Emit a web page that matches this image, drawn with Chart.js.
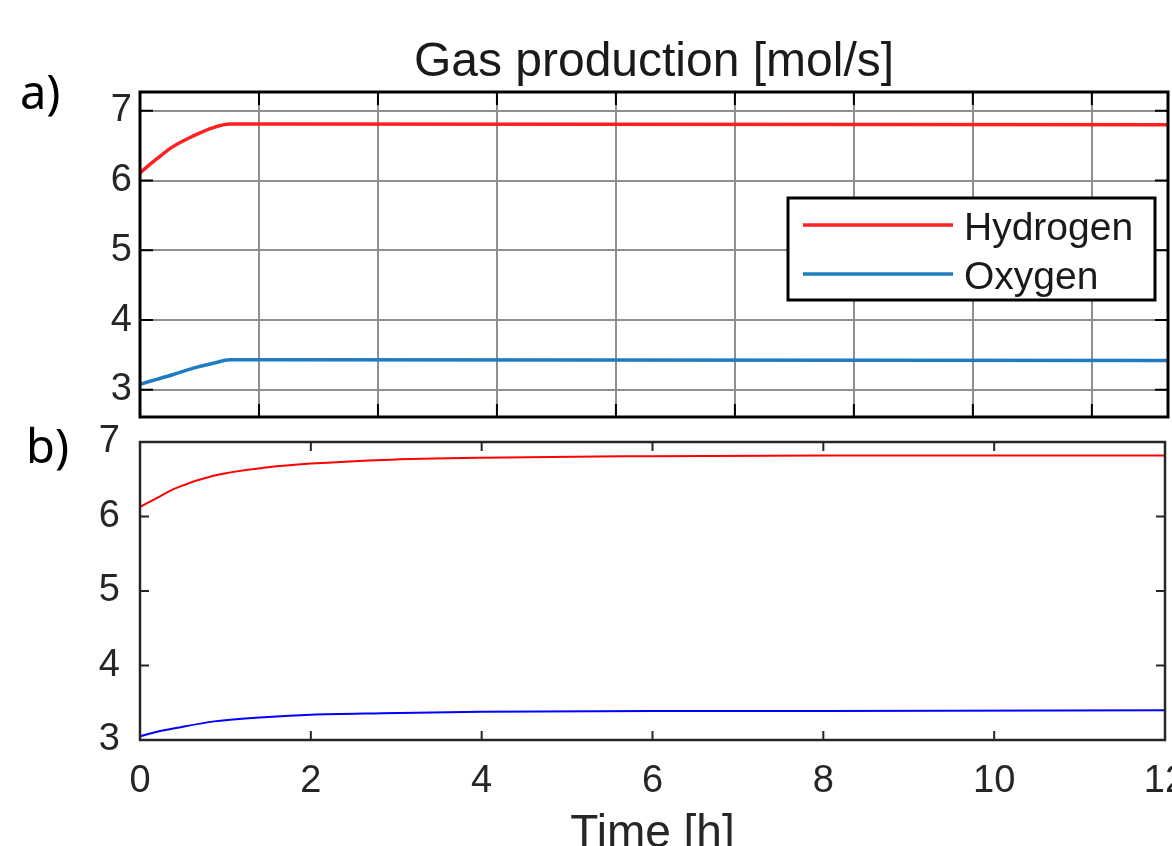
<!DOCTYPE html>
<html lang="en">
<head>
<meta charset="UTF-8">
<title>Gas production [mol/s]</title>
<style>
  body { margin: 0; background: #fff; width: 1172px; height: 846px; overflow: hidden; position: relative; }
  canvas { position: absolute; left: 0; }
  #chartA { top: 0; }
  #chartB { top: 425px; }
  .tag { position: absolute; font-family: 'Noto Sans', sans-serif; font-size: 47px; line-height: 1; color: #000; }
</style>
</head>
<body>
<canvas id="chartA" width="1172" height="425"></canvas>
<canvas id="chartB" width="1172" height="460"></canvas>
<div class="tag" style="left:20px;top:68px">a)</div>
<div class="tag" style="left:26px;top:422px">b)</div>

<script src="https://cdn.jsdelivr.net/npm/chart.js"></script>
<script>
// ---- data ----
const chartTitle = 'Gas production [mol/s]';
const xTitle = 'Time [h]';
const seriesNames = ['Hydrogen', 'Oxygen'];

// a) time in seconds (axis ticks every 5000 s, unlabelled)
const timeA = [0, 700, 1400, 2240, 3080, 3780, 43200];
const hydrogenA = [6.11, 6.31, 6.49, 6.64, 6.76, 6.81, 6.80];
const oxygenA = [3.08, 3.15, 3.22, 3.31, 3.38, 3.43, 3.42];
const ticksAX = [0, 5000, 10000, 15000, 20000, 25000, 30000, 35000, 40000];
const ticksAY = [3, 4, 5, 6, 7];

// b) time in hours
const timeB = [0, 0.2, 0.42, 0.87, 1.5, 2, 2.84, 4, 6, 8, 12];
const hydrogenB = [6.13, 6.25, 6.38, 6.55, 6.66, 6.71, 6.76, 6.79, 6.81, 6.82, 6.82];
const oxygenB = [3.05, 3.11, 3.16, 3.25, 3.31, 3.34, 3.36, 3.38, 3.39, 3.39, 3.40];
const ticksBX = [0, 2, 4, 6, 8, 10, 12];
const ticksBY = [3, 4, 5, 6, 7];

const fontFamily = "'Liberation Sans', Arial, sans-serif";
Chart.defaults.font.family = fontFamily;

function pts(xs, ys) { return xs.map((x, i) => ({ x: x, y: ys[i] })); }
function setTicks(list) { return s => { s.ticks = list.map(v => ({ value: v })); }; }
function fixWidth(w) { return s => { s.width = w; s.paddingTop = 0; s.paddingBottom = 0; }; }
function fixHeight(h) { return s => { s.height = h; s.paddingLeft = 0; s.paddingRight = 0; }; }

// box round the axes plus inward tick marks on all four sides
const framePlugin = {
  id: 'frame',
  afterDatasetsDraw(chart, args, o) {
    const { ctx, chartArea: a, scales } = chart;
    ctx.save();
    ctx.strokeStyle = o.color;
    ctx.lineWidth = o.tickWidth;
    ctx.beginPath();
    scales.x.ticks.forEach(t => {
      const px = scales.x.getPixelForValue(t.value);
      ctx.moveTo(px, a.bottom); ctx.lineTo(px, a.bottom - o.tickLen);
      ctx.moveTo(px, a.top); ctx.lineTo(px, a.top + o.tickLen);
    });
    scales.y.ticks.forEach(t => {
      const py = scales.y.getPixelForValue(t.value);
      ctx.moveTo(a.left, py); ctx.lineTo(a.left + o.tickLen, py);
      ctx.moveTo(a.right, py); ctx.lineTo(a.right - o.tickLen, py);
    });
    ctx.stroke();
    ctx.lineWidth = o.width;
    ctx.strokeRect(a.left, a.top, a.right - a.left, a.bottom - a.top);
    ctx.restore();
  }
};

// legend drawn inside the plot, matlab style
const boxLegend = {
  id: 'boxLegend',
  afterDraw(chart, args, o) {
    const ctx = chart.ctx;
    ctx.save();
    ctx.fillStyle = '#fff';
    ctx.fillRect(o.left, o.top, o.width, o.height);
    ctx.lineWidth = o.borderWidth;
    ctx.strokeStyle = o.borderColor;
    ctx.strokeRect(o.left, o.top, o.width, o.height);
    ctx.font = o.fontSize + 'px ' + fontFamily;
    ctx.textBaseline = 'middle';
    chart.data.datasets.forEach((ds, i) => {
      const y = o.top + o.firstRow + i * o.rowGap;
      ctx.strokeStyle = ds.borderColor;
      ctx.lineWidth = ds.borderWidth;
      ctx.beginPath();
      ctx.moveTo(o.left + o.lineStart, y);
      ctx.lineTo(o.left + o.lineEnd, y);
      ctx.stroke();
      ctx.fillStyle = '#1a1a1a';
      ctx.fillText(ds.label, o.left + o.textStart, y + o.textShift);
    });
    ctx.restore();
  }
};

const gridA = { color: '#8f8f8f', lineWidth: 2, drawTicks: false };

new Chart(document.getElementById('chartA'), {
  type: 'line',
  data: {
    datasets: [
      { label: seriesNames[0], data: pts(timeA, hydrogenA), borderColor: '#ff2020', borderWidth: 3.5 },
      { label: seriesNames[1], data: pts(timeA, oxygenA), borderColor: '#1f7cc1', borderWidth: 3.5 }
    ]
  },
  options: {
    responsive: false,
    animation: false,
    elements: { point: { radius: 0 }, line: { cubicInterpolationMode: 'monotone' } },
    layout: { padding: { top: 0, right: 4, left: 0, bottom: 0 } },
    scales: {
      x: {
        type: 'linear', min: 0, max: 43200,
        afterBuildTicks: setTicks(ticksAX), afterFit: fixHeight(8),
        ticks: { display: false }, grid: gridA, border: { display: false }
      },
      y: {
        min: 2.61, max: 7.27,
        afterBuildTicks: setTicks(ticksAY), afterFit: fixWidth(140),
        ticks: { padding: 8, color: '#262626', font: { size: 38 } },
        grid: gridA, border: { display: false }
      }
    },
    plugins: {
      legend: { display: false },
      tooltip: { enabled: false },
      title: {
        display: true, text: chartTitle, fullSize: false, color: '#1a1a1a',
        font: { size: 48, weight: 'normal' }, padding: { top: 34, bottom: 0.4 }
      },
      frame: { color: '#000', width: 3, tickWidth: 2, tickLen: 13 },
      boxLegend: {
        left: 788, top: 198, width: 367, height: 102, firstRow: 27, rowGap: 49,
        lineStart: 15, lineEnd: 165, textStart: 176, textShift: 4,
        fontSize: 39, borderWidth: 3, borderColor: '#000'
      }
    }
  },
  plugins: [framePlugin, boxLegend]
});

new Chart(document.getElementById('chartB'), {
  type: 'line',
  data: {
    datasets: [
      { label: seriesNames[0], data: pts(timeB, hydrogenB), borderColor: '#ff0000', borderWidth: 2 },
      { label: seriesNames[1], data: pts(timeB, oxygenB), borderColor: '#0000ff', borderWidth: 2 }
    ]
  },
  options: {
    responsive: false,
    animation: false,
    elements: { point: { radius: 0 }, line: { cubicInterpolationMode: 'monotone' } },
    layout: { padding: { top: 17, right: 7, left: 0, bottom: 0 } },
    scales: {
      x: {
        type: 'linear', min: 0, max: 12,
        afterBuildTicks: setTicks(ticksBX), afterFit: fixHeight(145),
        ticks: { padding: 11, color: '#262626', font: { size: 38 } },
        grid: { display: false }, border: { display: false },
        title: {
          display: true, text: xTitle, color: '#262626',
          font: { size: 46 }, padding: { top: 0, bottom: 23 }
        }
      },
      y: {
        min: 3, max: 7,
        afterBuildTicks: setTicks(ticksBY), afterFit: fixWidth(140),
        ticks: { padding: 12, color: '#262626', font: { size: 38 } },
        grid: { display: false }, border: { display: false }
      }
    },
    plugins: {
      legend: { display: false },
      tooltip: { enabled: false },
      frame: { color: '#262626', width: 2.5, tickWidth: 2, tickLen: 9 },
      boxLegend: {
        left: 708, top: 500, width: 358, height: 99, firstRow: 27, rowGap: 45.5,
        lineStart: 15, lineEnd: 167, textStart: 177, textShift: 3,
        fontSize: 38, borderWidth: 2.5, borderColor: '#262626'
      }
    }
  },
  plugins: [framePlugin, boxLegend]
});
</script>
</body>
</html>
